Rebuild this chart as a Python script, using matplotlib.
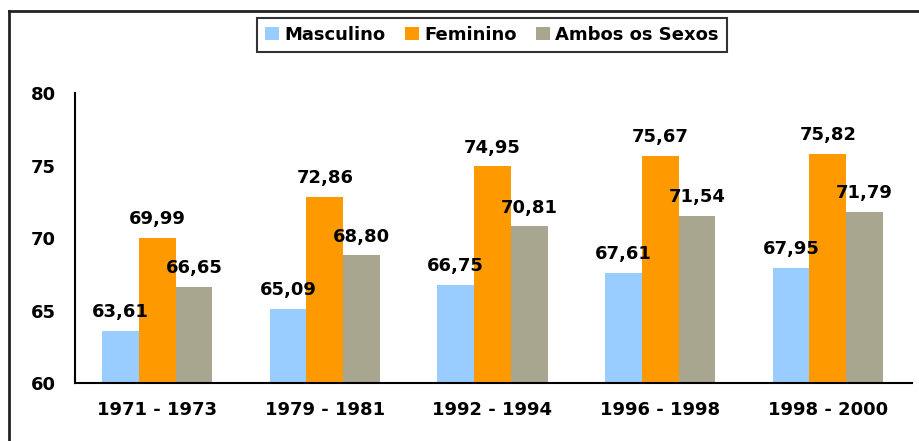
import matplotlib
matplotlib.use('Agg')
import matplotlib.pyplot as plt
from matplotlib.lines import Line2D
import numpy as np

periodos = ['1971 - 1973', '1979 - 1981', '1992 - 1994', '1996 - 1998', '1998 - 2000']
masculino = [63.61, 65.09, 66.75, 67.61, 67.95]
feminino = [69.99, 72.86, 74.95, 75.67, 75.82]
ambos = [66.65, 68.80, 70.81, 71.54, 71.79]

series = [('Masculino', masculino, '#99ccff'),
          ('Feminino', feminino, '#ff9900'),
          ('Ambos os Sexos', ambos, '#a9a68f')]

fsize = 13
fig = plt.figure(figsize=(9.19, 4.41), dpi=100)
ax = fig.add_axes([0.0816, 0.1315, 0.9104, 0.6575])

x = np.arange(len(periodos))
w = 0.219
for i, (nome, vals, cor) in enumerate(series):
	pos = x + (i - 1) * w
	ax.bar(pos, [v - 60 for v in vals], w, bottom=60, color=cor, label=nome)
	for p, v in zip(pos, vals):
		ax.annotate(('%.2f' % v).replace('.', ','), (p, v), xytext=(0, 7),
			textcoords='offset points', ha='center', va='bottom',
			fontsize=fsize, fontweight='bold')

ax.set_xlim(-0.49, 4.5)
ax.set_ylim(60, 80)
ax.set_yticks([60, 65, 70, 75, 80])
ax.set_xticks(x)
ax.set_xticklabels(periodos)
for s in ['top', 'right']:
	ax.spines[s].set_visible(False)
ax.spines['left'].set_linewidth(1.5)
ax.spines['bottom'].set_linewidth(1.5)
ax.tick_params(axis='y', length=0, pad=14, labelsize=fsize)
ax.tick_params(axis='x', length=0, pad=13, labelsize=fsize)
for t in ax.get_xticklabels() + ax.get_yticklabels():
	t.set_fontweight('bold')

leg = ax.legend(loc='center', ncol=3, frameon=True, fancybox=False,
	prop={'size': fsize, 'weight': 'bold'},
	handlelength=0.75, handleheight=0.75, handletextpad=0.3, columnspacing=1.1,
	borderpad=0.45, edgecolor='black')
leg.set_bbox_to_anchor((492 / 919., 1 - 35 / 441.), transform=fig.transFigure)
leg.get_frame().set_linewidth(1.5)

# moldura externa
fig.add_artist(Line2D([9 / 919., 9 / 919.], [0, 1 - 11 / 441.], transform=fig.transFigure, color='#222222', lw=2))
fig.add_artist(Line2D([9 / 919., 1], [1 - 11 / 441., 1 - 11 / 441.], transform=fig.transFigure, color='#222222', lw=2))

plt.savefig('out.png', dpi=100)
